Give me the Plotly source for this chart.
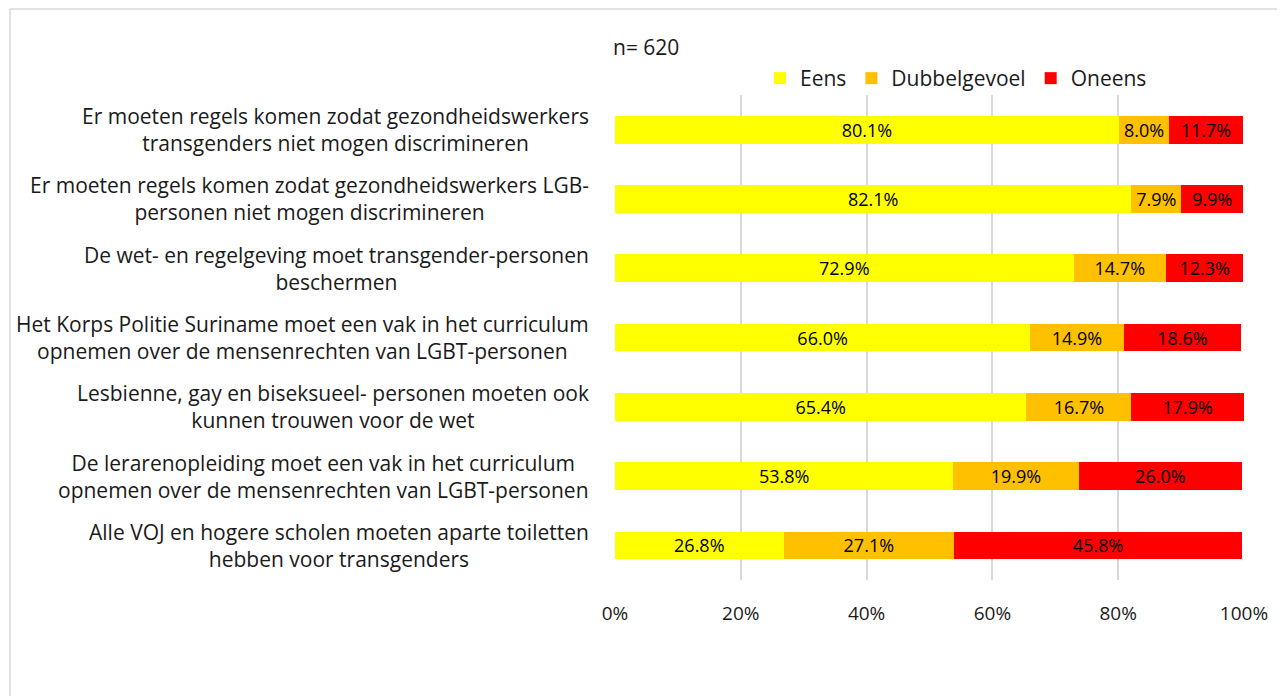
import plotly.graph_objects as go

categories = [
    "Er moeten regels komen zodat gezondheidswerkers<br>transgenders niet mogen discrimineren",
    "Er moeten regels komen zodat gezondheidswerkers LGB-<br>personen niet mogen discrimineren",
    "De wet- en regelgeving moet transgender-personen<br>beschermen",
    "Het Korps Politie Suriname moet een vak in het curriculum<br>opnemen over de mensenrechten van LGBT-personen",
    "Lesbienne, gay en biseksueel- personen moeten ook<br>kunnen trouwen voor de wet",
    "De lerarenopleiding moet een vak in het curriculum<br>opnemen over de mensenrechten van LGBT-personen",
    "Alle VOJ en hogere scholen moeten aparte toiletten<br>hebben voor transgenders",
]
eens = [80.1, 82.1, 72.9, 66.0, 65.4, 53.8, 26.8]
dubbelgevoel = [8.0, 7.9, 14.7, 14.9, 16.7, 19.9, 27.1]
oneens = [11.7, 9.9, 12.3, 18.6, 17.9, 26.0, 45.8]
series_names = ["Eens", "Dubbelgevoel", "Oneens"]
series_colors = ["#FFFF00", "#FFC000", "#FF0000"]
x_ticks = [0, 20, 40, 60, 80, 100]
x_tick_labels = ["0%", "20%", "40%", "60%", "80%", "100%"]
note = "n= 620"

FONT = "Open Sans"
TXT = "#1a1a1a"
OFF = 8  # page body margin
W, H = 1285 - OFF, 696 - OFF
# plot area in screen pixels
SL, SR, ST, SB = 615, 1244, 95, 580
L, R, T, B = SL - OFF, SR - OFF, ST - OFF, SB - OFF

fig = go.Figure()
for name, vals, col in zip(series_names, [eens, dubbelgevoel, oneens], series_colors):
    fig.add_trace(go.Bar(
        y=categories, x=vals, name=name, orientation="h",
        marker=dict(color=col, line=dict(width=0)),
        texttemplate="%{x:.1f}%", textposition="inside",
        insidetextanchor="middle", textangle=0,
        textfont=dict(color="black", size=18, family=FONT),
    ))

def px_x(sx):
    return (sx - SL) / (SR - SL)

def px_y(sy):
    return (SB - sy) / (SB - ST)

annotations = []
for c in categories:
    annotations.append(dict(
        x=px_x(591), xref="paper", y=c, yref="y", text=c,
        xanchor="right", yanchor="middle", align="center", showarrow=False,
        font=dict(size=21, family=FONT, color=TXT),
    ))
annotations.append(dict(
    x=px_x(611), xref="paper", y=px_y(47), yref="paper", text=note,
    xanchor="left", yanchor="middle", showarrow=False,
    font=dict(size=21, family=FONT, color=TXT),
))

shapes = [
    dict(type="line", xref="paper", yref="paper", x0=px_x(10), x1=px_x(1300),
         y0=px_y(9), y1=px_y(9), line=dict(color="#D9D9D9", width=1.5)),
    dict(type="line", xref="paper", yref="paper", x0=px_x(10), x1=px_x(10),
         y0=px_y(9), y1=px_y(710), line=dict(color="#D9D9D9", width=1.5)),
]

fig.update_layout(
    width=W, height=H,
    margin=dict(l=L, r=W - R, t=T, b=H - B, pad=0),
    barmode="stack", bargap=0.6,
    plot_bgcolor="white", paper_bgcolor="white",
    font=dict(family=FONT, size=21, color=TXT),
    uniformtext=dict(minsize=18, mode="show"),
    xaxis=dict(range=[0, 100], tickvals=x_ticks, ticktext=x_tick_labels,
               showgrid=True, gridcolor="#D9D9D9", gridwidth=1.5,
               zeroline=False, showline=False, ticks="", ticklabelstandoff=20,
               tickfont=dict(size=19, family=FONT, color=TXT)),
    yaxis=dict(autorange="reversed", showticklabels=False, showgrid=False,
               zeroline=False, showline=False, ticks=""),
    legend=dict(orientation="h", x=px_x(760), xanchor="left", y=px_y(58),
                yanchor="top", font=dict(size=21, family=FONT, color=TXT),
                traceorder="normal", itemwidth=30, bgcolor="rgba(0,0,0,0)"),
    annotations=annotations, shapes=shapes,
)
fig.write_html("out.html")
